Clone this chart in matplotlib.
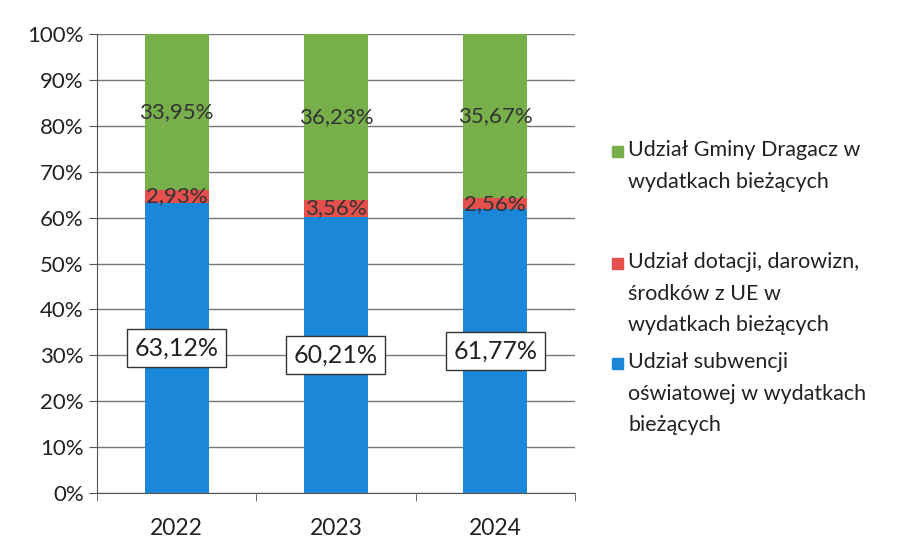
import numpy as np
import matplotlib
matplotlib.use("Agg")
import matplotlib.pyplot as plt
from matplotlib.ticker import PercentFormatter
from matplotlib.patches import Rectangle

years = ["2022", "2023", "2024"]
subwencja = [63.12, 60.21, 61.77]
dotacje = [2.93, 3.56, 2.56]
gmina = [33.95, 36.23, 35.67]

labels = ["Udział subwencji\noświatowej w wydatkach\nbieżących",
          "Udział dotacji, darowizn,\nśrodków z UE w\nwydatkach bieżących",
          "Udział Gminy Dragacz w\nwydatkach bieżących"]
colors = ["#1b87d8", "#e5504c", "#77b04a"]

plt.rcParams['font.family'] = ['Lato', 'DejaVu Sans']

W, H = 912, 539
fig = plt.figure(figsize=(W / 100, H / 100), dpi=100)
ax = fig.add_axes([97 / W, 1 - 493 / H, 478 / W, 459 / H])

x = np.arange(len(years))
w = 0.4
ax.bar(x, subwencja, w, color=colors[0], zorder=2)
ax.bar(x, dotacje, w, bottom=subwencja, color=colors[1], zorder=2)
bottom3 = np.array(subwencja) + np.array(dotacje)
ax.bar(x, gmina, w, bottom=bottom3, color=colors[2], zorder=2)

fmt = lambda v: f"{v:.2f}%".replace(".", ",")
for i in range(len(years)):
    ax.text(x[i], subwencja[i] / 2, fmt(subwencja[i]), ha="center", va="center",
            fontsize=18, color="#222222", zorder=3,
            bbox=dict(boxstyle="square,pad=0.3", fc="white", ec="#333333", lw=1))
    ax.text(x[i], subwencja[i] + dotacje[i] / 2, fmt(dotacje[i]), ha="center", va="center",
            fontsize=16, color="#333333", zorder=3)
    ax.text(x[i], bottom3[i] + gmina[i] / 2, fmt(gmina[i]), ha="center", va="center",
            fontsize=16, color="#333333", zorder=3)

ax.set_ylim(0, 100)
ax.set_xlim(-0.5, 2.5)
ax.set_yticks(np.arange(0, 101, 10))
ax.yaxis.set_major_formatter(PercentFormatter(decimals=0))
ax.set_xticks(x)
ax.set_xticklabels(years)
ax.set_xticks([-0.5, 0.5, 1.5, 2.5], minor=True)
ax.tick_params(axis="x", which="major", length=0, labelsize=16.5, pad=18)
ax.tick_params(axis="x", which="minor", length=6, color="#555555")
ax.tick_params(axis="y", labelsize=16, length=6, color="#555555", colors="#222222")
ax.tick_params(axis="x", colors="#222222")
ax.grid(axis="y", color="#777777", lw=1, zorder=0)
for s in ["top", "right"]:
    ax.spines[s].set_visible(False)
ax.spines["left"].set_color("#555555")
ax.spines["bottom"].set_color("#555555")

# legend drawn by hand: square beside the first line of each label
legend_order = [2, 1, 0]
legend_tops = [140, 252, 352]  # px from top
for k, top in zip(legend_order, legend_tops):
    fig.text(628 / W, 1 - top / H, labels[k], ha="left", va="top", fontsize=15.5,
             color="#222222", linespacing=1.72)
    fig.patches.append(Rectangle((612 / W, 1 - (top + 17) / H), 11 / W, 11 / H,
                                 transform=fig.transFigure, color=colors[k]))

fig.savefig("out.png", dpi=100, facecolor="white")
